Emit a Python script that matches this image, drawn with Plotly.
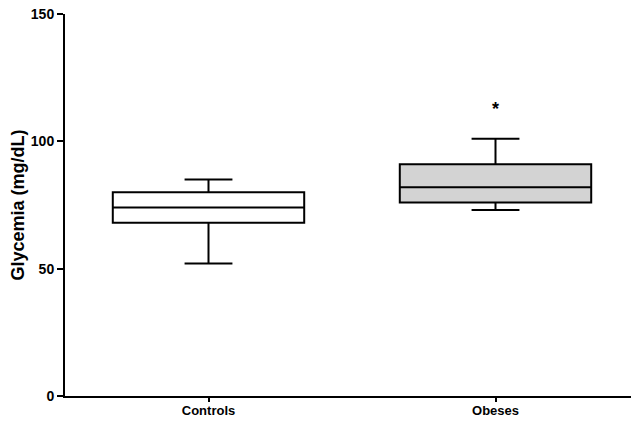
import plotly.graph_objects as go

groups = ["Controls", "Obeses"]
q1 = [68, 76]
medians = [74, 82]
q3 = [80, 91]
lower = [52, 73]
upper = [85, 101]
fills = ["#ffffff", "#d3d3d3"]
star_y = [112]
star_text = ["*"]
y_ticks = [0, 50, 100, 150]

fig = go.Figure()
for i, g in enumerate(groups):
    fig.add_trace(go.Box(
        x=[g], q1=[q1[i]], median=[medians[i]], q3=[q3[i]],
        lowerfence=[lower[i]], upperfence=[upper[i]],
        fillcolor=fills[i], line=dict(color="black", width=2),
        width=0.667, whiskerwidth=0.25, boxpoints=False,
        showlegend=False, hoverinfo="skip",
    ))

fig.add_trace(go.Scatter(
    x=[groups[1]], y=star_y, mode="text", text=star_text,
    textfont=dict(family="Arial, Liberation Sans", size=18, color="black"),
    showlegend=False, hoverinfo="skip",
))

font = dict(family="Arial, Liberation Sans", size=14, color="black", weight="bold")
xfont = dict(family="Arial, Liberation Sans", size=13, color="black", weight="bold")
# page body has an 8px default margin, so the figure is sized 8px smaller
fig.update_layout(
    width=631, height=413,
    margin=dict(l=57, r=0, t=6, b=25),
    plot_bgcolor="white", paper_bgcolor="white",
    boxmode="overlay",
    font=font,
    xaxis=dict(
        type="category", categoryorder="array", categoryarray=groups,
        range=[-0.5, 1.5], showline=True, linecolor="black", linewidth=2,
        ticks="outside", ticklen=4, tickwidth=2, tickcolor="black",
        showgrid=False, zeroline=False, tickfont=xfont, fixedrange=True,
        automargin=False, ticklabelstandoff=-3, ticklabeloverflow="allow",
    ),
    yaxis=dict(
        range=[0, 150], tickvals=y_ticks, showline=True, linecolor="black",
        linewidth=2, ticks="outside", ticklen=6, tickwidth=2, tickcolor="black",
        showgrid=False, zeroline=False, tickfont=font, automargin=False,
        ticklabeloverflow="allow",
        title=dict(text="Glycemia (mg/dL)", font=dict(family="Arial, Liberation Sans", size=18, color="black", weight="bold"), standoff=6),
    ),
)

fig.write_html("out.html")
